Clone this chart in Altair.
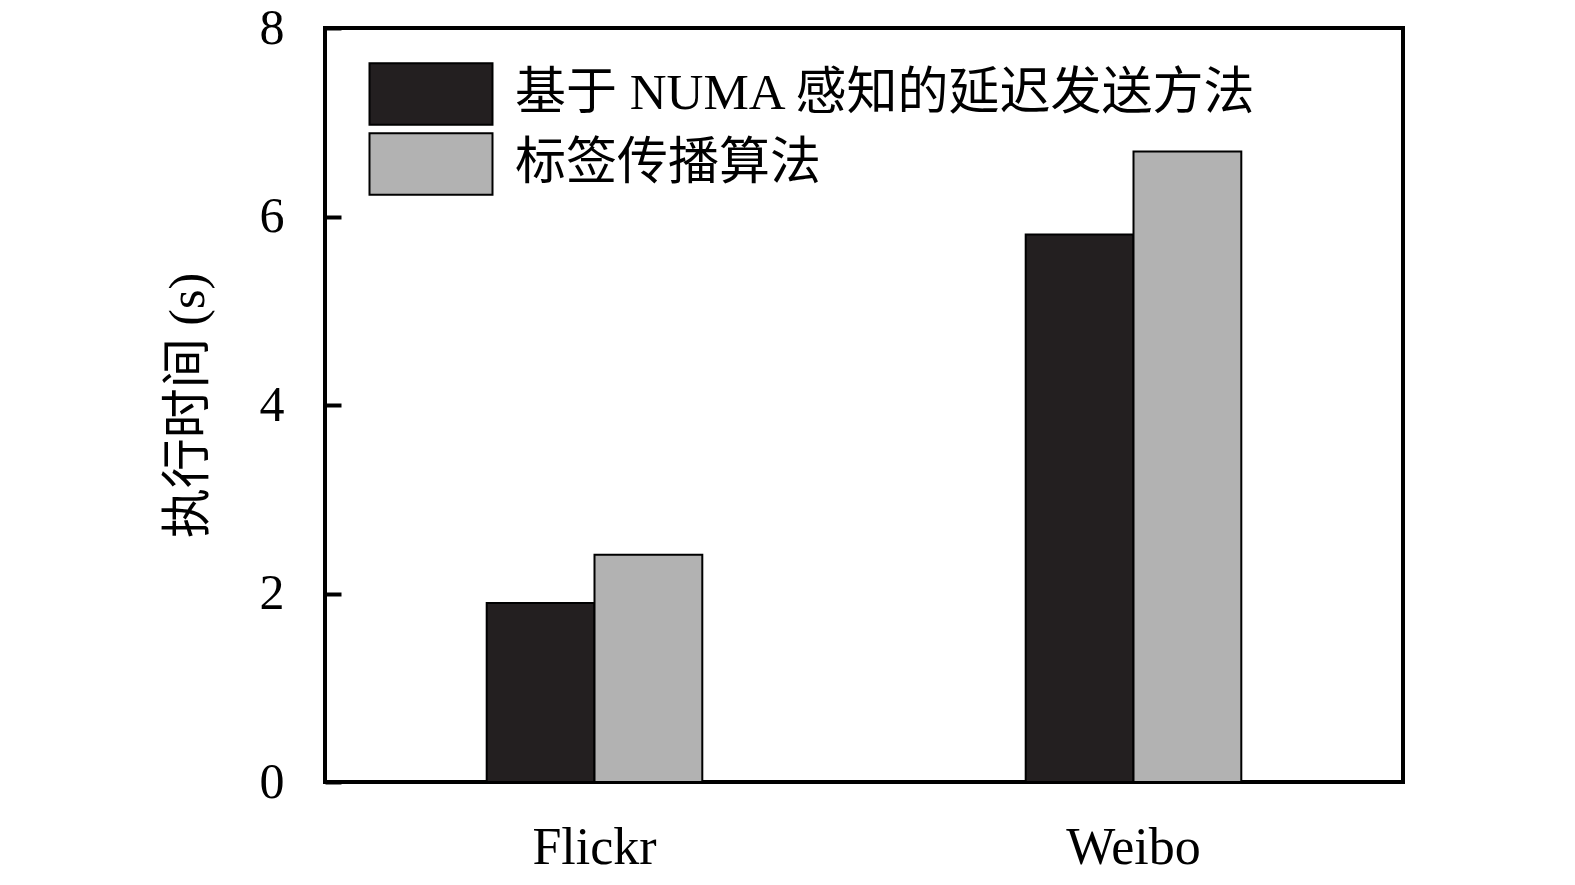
import altair as alt
import pandas as pd

datasets = ["Flickr", "Weibo"]
series = ["基于 NUMA 感知的延迟发送方法", "标签传播算法"]
numa_values = [1.90, 5.81]
lpa_values = [2.41, 6.69]
tick_labels = [0, 2, 4, 6, 8]
colors = ["#231f20", "#b2b2b2"]

rows = []
for i, d in enumerate(datasets):
    rows.append({"dataset": d, "series": series[0], "value": numa_values[i]})
    rows.append({"dataset": d, "series": series[1], "value": lpa_values[i]})
df = pd.DataFrame(rows)

FONT = "Liberation Serif, Noto Sans CJK SC"
yscale = alt.Scale(domain=[0, 8], nice=False, zero=True)

chart = alt.Chart(df).mark_bar(stroke="black", strokeWidth=2).encode(
    x=alt.X("dataset:N", sort=datasets,
            scale=alt.Scale(paddingInner=0.6, paddingOuter=0.3),
            axis=alt.Axis(title=None, labelAngle=0, labelFontSize=52, labelFont=FONT,
                          labelColor="black", labelPadding=40, ticks=False, domain=False)),
    xOffset=alt.XOffset("series:N", sort=series,
                        scale=alt.Scale(paddingInner=0, paddingOuter=0)),
    y=alt.Y("value:Q", scale=yscale,
            axis=alt.Axis(title="执行时间 (s)", values=tick_labels, format="d",
                          offset=-16, ticks=True, tickSize=16, tickWidth=4,
                          tickColor="black",
                          labelFontSize=50, labelFont=FONT, labelColor="black",
                          labelPadding=41, domain=False, grid=False,
                          titleFont=FONT, titleFontSize=50, titleFontWeight="normal",
                          titleColor="black", titlePadding=46, zindex=2)),
    color=alt.Color("series:N", sort=series,
                    scale=alt.Scale(domain=series, range=colors),
                    legend=alt.Legend(title=None, orient="none", legendX=74, legendY=34,
                                      symbolType="M-2,-1H2V1H-2Z", symbolSize=3782,
                                      symbolStrokeColor="black", symbolStrokeWidth=2,
                                      symbolOpacity=1,
                                      labelFont=FONT, labelFontSize=51, labelColor="black",
                                      labelOffset=52, rowPadding=0, padding=0,
                                      labelLimit=1000)),
).properties(
    width=1078, height=754,
    padding={"left": 317, "top": 20, "right": 10, "bottom": 95},
    autosize=alt.AutoSizeParams(type="none"),
    background="white",
).configure_view(stroke="black", strokeWidth=4)

chart.save("out.html", embed_options={"renderer": "svg", "actions": False})
